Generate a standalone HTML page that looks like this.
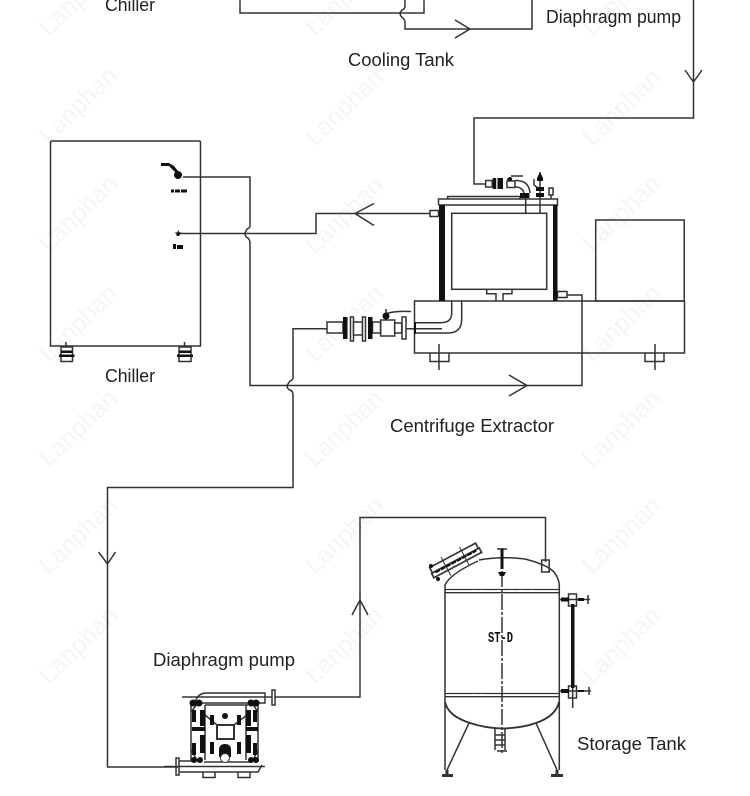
<!DOCTYPE html>
<html><head><meta charset="utf-8"><style>
html,body{margin:0;padding:0;background:#fff}
svg{display:block}
.w text{font:25px "Liberation Sans",sans-serif;fill:#f5f5f5}
.l{font:18px "Liberation Sans",sans-serif;fill:#222}
</style></head><body>
<svg width="750" height="796" viewBox="0 0 750 796" xmlns="http://www.w3.org/2000/svg">
<g class="w">
<text transform="translate(49,37) rotate(-44)">Lanphan</text><text transform="translate(315,37) rotate(-44)">Lanphan</text><text transform="translate(592,37) rotate(-44)">Lanphan</text>
<text transform="translate(49,145) rotate(-44)">Lanphan</text><text transform="translate(315,147) rotate(-44)">Lanphan</text><text transform="translate(592,147) rotate(-44)">Lanphan</text>
<text transform="translate(49,253) rotate(-44)">Lanphan</text><text transform="translate(315,255) rotate(-44)">Lanphan</text><text transform="translate(592,253) rotate(-44)">Lanphan</text>
<text transform="translate(49,363) rotate(-44)">Lanphan</text><text transform="translate(315,363) rotate(-44)">Lanphan</text><text transform="translate(592,363) rotate(-44)">Lanphan</text>
<text transform="translate(49,468) rotate(-44)">Lanphan</text><text transform="translate(315,468) rotate(-44)">Lanphan</text><text transform="translate(592,468) rotate(-44)">Lanphan</text>
<text transform="translate(49,575) rotate(-44)">Lanphan</text><text transform="translate(315,575) rotate(-44)">Lanphan</text><text transform="translate(592,575) rotate(-44)">Lanphan</text>
<text transform="translate(49,685) rotate(-44)">Lanphan</text><text transform="translate(315,685) rotate(-44)">Lanphan</text><text transform="translate(592,685) rotate(-44)">Lanphan</text>
</g>
<g fill="none" stroke="#333" stroke-width="1.5">
<!-- top piping -->
<path d="M240 0V13H424V0"/>
<path d="M405 0V6Q405 9 402 10L400 13Q400 16 403 18Q405 20 405 23V29H532V0"/>
<path d="M455 20L470 29L455 38"/>
<path d="M693.5 0V118H474V184H486"/>
<path d="M685 70L693.5 82L702 70"/>
<!-- chiller -->
<path d="M52 141H199Q200.500 141 200.500 142.500V346H50.500V142.500Q50.500 141 52 141Z"/>
<path d="M183 177H250V226Q250 228 247 229L245 233Q245 237 248 238Q250 240 250 243V385.500H582V295H567"/>
<path d="M180 233.500H316V213.500H430"/>
<path d="M374 203.500L355 213.500L374 225.500"/>
<path d="M509 375L527 385.500L509 396"/>
<path d="M327 328.700H293V378Q293 380 290 381L287 385.500Q287 389 290 390Q293 391 293 395V487.500H107.500V767H178"/>
<path d="M98.500 552L107.500 564L115.500 552"/>
<path d="M275 697H360V517.500H545.500V562"/>
<path d="M352 615L360 600L368 615"/>
<!-- casters -->
<path d="M66 342V347M184.500 342V347"/>
<rect x="61" y="347" width="11.500" height="14.500" fill="#fff"/>
<rect x="179" y="347" width="12" height="14.500" fill="#fff"/>
<!-- centrifuge -->
<rect x="595.700" y="220" width="88.500" height="81"/>
<path d="M414.500 301H684.500V353H414.500Z"/>
<path d="M430 353V361.500H449V353M439 344V370M645 353V361.500H664V353M655 344V370"/>
<path d="M438.500 205V199H557.500V205H438.500"/>
<path d="M447.700 199V196.500H520V199"/>
<rect x="451.700" y="213.300" width="95" height="76"/>
<path d="M486.700 289.300V293.700H496V301M512 289.300V293.700H503V301"/>
<rect x="430" y="210.500" width="8.500" height="6"/>
<rect x="557.500" y="291.500" width="9.500" height="6"/>
<path d="M461.700 301V319Q461.700 333 448 333H415M451.700 301V313Q451.700 322.700 441 322.700H415M395 328.700H442"/>
<path d="M386 320V309M386 314Q392 311 411 311.500"/>
<!-- flange line -->
<rect x="327" y="322" width="16" height="11" fill="#fff"/>
<rect x="350.500" y="317" width="3" height="24" fill="#fff"/>
<rect x="353.500" y="322" width="9" height="13" fill="#fff"/>
<rect x="362.500" y="317" width="3" height="24" fill="#fff"/>
<rect x="372.500" y="322" width="8" height="11" fill="#fff"/>
<rect x="380.700" y="320" width="14" height="16" fill="#fff"/>
<rect x="394.700" y="323" width="7" height="10" fill="#fff"/>
<rect x="402" y="317" width="4" height="22" fill="#fff"/>
<!-- top pipework -->
<rect x="485.700" y="180.500" width="6.500" height="6.500"/>
<rect x="507" y="181" width="8" height="6.500"/>
<path d="M515 180.500H517Q529 181 530 193M515 187H517Q523 188 524 193"/>
<path d="M508 181V178M511 176H523"/>
<path d="M525.700 193V213.300M540 172V213.300"/>
<rect x="549" y="188" width="4" height="7"/>
<path d="M551 195V199"/>
<path d="M534 179V185L538 188"/>
<!-- pump -->
<path d="M182 697H272"/>
<path d="M195 703Q197 693 207 693H265V703H200"/>
<rect x="272" y="690" width="3" height="15"/>
<rect x="176" y="758" width="3" height="17"/>
<path d="M164 766.500H265M179 761H190M179 772H258L262 765"/>
<rect x="217" y="725" width="17" height="14" stroke-width="2"/>
<path d="M205 705H248M205 715L217 725M247 715L234 725M204 762H250"/>
<path d="M203 772V777.500H215V772M238 772V777.500H250V772"/>
<path d="M191 701V762M258 701V762M205 705V760M246 705V760M198 703L191 712M252 703L258 712M191 750L198 762M258 750L252 762"/>
<!-- tank -->
<path d="M445 770V585Q450 574 478 561M479 560Q500 556 525 559Q552 566 556 575Q559 580 559.300 585V770"/>
<path d="M445 589.500H559M445 592.700H559M445 693.500H559M445 696.700H559" stroke-width="1.300"/>
<path d="M445 702Q448 716 470 723Q485 728 502 728.500Q522 728 536 723Q556 716 559 702" stroke-width="1.800"/>
<path d="M469 723L447 770M536 723L557 770"/>
<path d="M502 548V753" stroke-dasharray="16 2 3 2"/>
<rect x="541.700" y="560" width="7.500" height="12"/>
<path d="M497 549H507M497 751H507M495 735H505M495 740H505M495 745H505M495 728V750M505 728V750"/>
<path d="M559 599.500H590M559 691H591M572.700 688V708"/>
<path d="M588 595V604M589 687V695"/>
<path d="M442 775.500H453M551 775.500H563" stroke-width="3"/>
<path d="M447 770V774M557 770V774" stroke-width="3"/>
<rect x="568.500" y="594" width="8" height="12" stroke-width="1.500"/>
<rect x="568.500" y="686" width="8" height="12" stroke-width="1.500"/>
<g transform="translate(455,562) rotate(-28)">
<rect x="-25" y="-7" width="52" height="6" stroke-width="1.700"/>
<rect x="-26" y="-1" width="54" height="5" stroke-width="1.700"/>
<path d="M-22 0H24" stroke="#111" stroke-width="2" stroke-dasharray="5 1"/>
<path d="M-10 -11V10M11 -11V10" stroke-width="1"/>
</g>
</g>
<!-- white tick marks on bands -->
<path d="M471 591H475M480 591H484M497 591H500M510 591H513M519 591H523M531 591H534M471 695H475M480 695H484" stroke="#fff" stroke-width="2" fill="none"/>
<!-- solid black details -->
<g fill="#111" stroke="none">
<rect x="439" y="205" width="6" height="96"/>
<rect x="553" y="205" width="4.500" height="96"/>
<rect x="343" y="317" width="4.500" height="22"/>
<rect x="368" y="317" width="4.500" height="22"/>
<rect x="414" y="322" width="2" height="12"/>
<circle cx="386" cy="316" r="3.500"/>
<rect x="492.700" y="178" width="3.500" height="11"/>
<rect x="497.500" y="178" width="5.500" height="11"/>
<rect x="520" y="193" width="9.500" height="5"/>
<rect x="537" y="178" width="6" height="3"/>
<rect x="536" y="187" width="8" height="4"/>
<rect x="536" y="193" width="8" height="4"/>
<path d="M540 172L537 178H543Z"/>
<circle cx="510" cy="179" r="2"/>
<!-- chiller details -->
<circle cx="178" cy="175" r="4"/>
<path d="M161 163h8l5 3 4 5-2 2-4-4-3-3h-8z"/>
<rect x="171" y="189.500" width="3" height="3"/><rect x="175" y="189.500" width="5" height="3"/><rect x="181" y="189.500" width="6" height="3"/>
<path d="M178 230l1.500 2.500h2l-2 2.500v1h-3v-2l-2-1.500h3z"/>
<rect x="173" y="244" width="3" height="5"/><rect x="177" y="245" width="6" height="4"/>
<rect x="61" y="350.500" width="11.500" height="2.500"/><rect x="59" y="354.500" width="15.500" height="2.500"/>
<rect x="179" y="350.500" width="12" height="2.500"/><rect x="177" y="354.500" width="16" height="2.500"/>
<!-- tank details -->
<rect x="500.500" y="549" width="3" height="20"/>
<path d="M498 572h8l-2 4h-4z"/>
<rect x="571" y="604" width="3.500" height="84"/>
<rect x="561" y="597.500" width="8" height="4"/>
<rect x="561" y="689" width="8" height="4"/>
<rect x="578" y="598" width="6" height="3"/>
<rect x="578" y="690" width="6" height="2"/>
<circle cx="431" cy="566" r="2"/><circle cx="438" cy="579" r="2"/>
<!-- pump details -->
<circle cx="193" cy="703" r="3.500"/><circle cx="199" cy="703" r="3.500"/>
<circle cx="251" cy="703" r="3.500"/><circle cx="256" cy="703" r="3.500"/>
<circle cx="194" cy="760" r="3"/><circle cx="200" cy="760" r="3"/>
<circle cx="251" cy="760" r="3"/><circle cx="256" cy="760" r="3"/>
<rect x="192" y="710" width="4" height="12"/><rect x="200" y="710" width="5" height="16"/><rect x="192" y="727" width="13" height="4"/><rect x="200" y="735" width="5" height="18"/><rect x="192" y="743" width="4" height="12"/>
<rect x="246" y="710" width="5" height="16"/><rect x="253" y="710" width="4" height="12"/><rect x="246" y="727" width="12" height="4"/><rect x="246" y="735" width="5" height="18"/><rect x="253" y="743" width="4" height="12"/>
<rect x="210" y="715" width="4" height="10"/><rect x="237" y="715" width="4" height="10"/><rect x="210" y="742" width="4" height="12"/><rect x="237" y="742" width="4" height="12"/>
<path d="M219 757V750Q219 744 225 744Q231 744 231 750V757Z"/>
<circle cx="225" cy="716" r="3"/>
</g>
<circle cx="225" cy="758" r="4.500" fill="#fff" stroke="#333"/>
<text x="488" y="642" font-family="Liberation Mono, monospace" font-weight="bold" font-size="15" textLength="25" lengthAdjust="spacingAndGlyphs" fill="#111">ST-D</text>
<text class="l" x="105" y="11" textLength="50" lengthAdjust="spacingAndGlyphs">Chiller</text>
<text class="l" x="348" y="66" textLength="106" lengthAdjust="spacingAndGlyphs">Cooling Tank</text>
<text class="l" x="546" y="23" textLength="135" lengthAdjust="spacingAndGlyphs">Diaphragm pump</text>
<text class="l" x="105" y="382" textLength="50" lengthAdjust="spacingAndGlyphs">Chiller</text>
<text class="l" x="390" y="432" textLength="164" lengthAdjust="spacingAndGlyphs">Centrifuge Extractor</text>
<text class="l" x="153" y="666" textLength="142" lengthAdjust="spacingAndGlyphs">Diaphragm pump</text>
<text class="l" x="577" y="750" textLength="109" lengthAdjust="spacingAndGlyphs">Storage Tank</text>
</svg>
</body></html>
